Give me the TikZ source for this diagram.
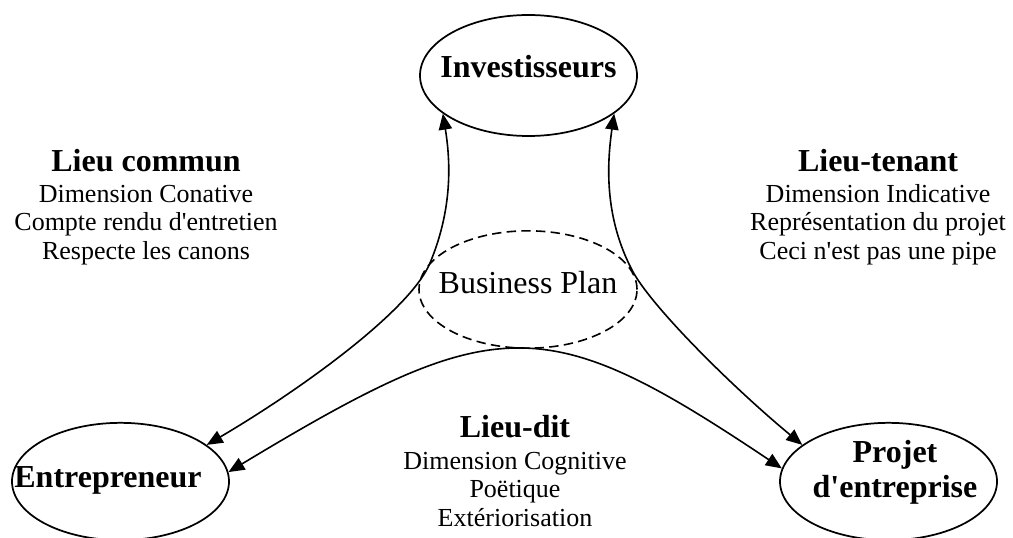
\documentclass[tikz,border=0pt]{standalone}
\usepackage{fontspec}
% plain family, so that ' stays a straight quote
\newfontfamily\tnr{Liberation Serif}
\usetikzlibrary{arrows.meta,shapes.geometric}
\begin{document}
\begin{tikzpicture}[x=0.75pt,y=-0.75pt,
  ell/.style={draw,ellipse,line width=1.3pt,minimum width=162.75pt,minimum height=88pt,inner sep=0pt},
  bplan/.style={draw,ellipse,line width=1.2pt,dash pattern=on 7pt off 4pt,minimum width=163.5pt,minimum height=88pt,inner sep=0pt},
  head/.style={anchor=base,font=\tnr\fontsize{24}{26}\selectfont\bfseries},
  sub/.style={anchor=base,font=\tnr\fontsize{19.5}{21}\selectfont},
  link/.style={line width=1.2pt,{Triangle[length=12pt,width=10pt]}-{Triangle[length=12pt,width=10pt]}}]
\useasboundingbox (0,0) rectangle (1013,538);

% actors
\node[ell,minimum height=90.75pt] (inv) at (528.5,75.5) {};
\node[ell] (ent) at (120.5,481.5) {};
\node[ell] (proj) at (888.5,481.5) {};
\node[bplan] (bp) at (528,289.5) {};

\node[head] (invt) at (528.5,78) {Investisseurs};
\node[head] (entt) at (108,487) {Entrepreneur};
\node[head] (projt1) at (895,462) {Projet};
\node[head] (projt2) at (895,497) {d'entreprise};
\node[anchor=base,font=\tnr\fontsize{24}{26}\selectfont] (bpt) at (528,293) {Business Plan};

% bend points of the two side links
\coordinate (lbend) at (430,263);
\coordinate (rbend) at (632,270);

% relations
\draw[link] (inv.204) .. controls (452,170) and (450,215) .. (lbend)
            .. controls (410,311) and (300,390) .. (ent.23.4);
\draw[link] (inv.336.4) .. controls (606,170) and (606,220) .. (rbend)
            .. controls (650,305) and (730,385) .. (proj.157.5);
\draw[link] (ent.5.5) .. controls (497,310) and (545,310) .. (proj.173.5);

% Lieu commun
\node[head] (lc0) at (146,172) {Lieu commun};
\node[sub] (lc1) at (146,203) {Dimension Conative};
\node[sub] (lc2) at (146,231) {Compte rendu d'entretien};
\node[sub] (lc3) at (146,259) {Respecte les canons};

% Lieu-tenant
\node[head] (lt0) at (878,172) {Lieu-tenant};
\node[sub] (lt1) at (878,203) {Dimension Indicative};
\node[sub] (lt2) at (878,231) {Représentation du projet};
\node[sub] (lt3) at (878,259) {Ceci n'est pas une pipe};

% Lieu-dit
\node[head] (ld0) at (515,437) {Lieu-dit};
\node[sub] (ld1) at (515,469) {Dimension Cognitive};
\node[sub] (ld2) at (515,497) {Poëtique};
\node[sub] (ld3) at (515,526) {Extériorisation};
\end{tikzpicture}
\end{document}
